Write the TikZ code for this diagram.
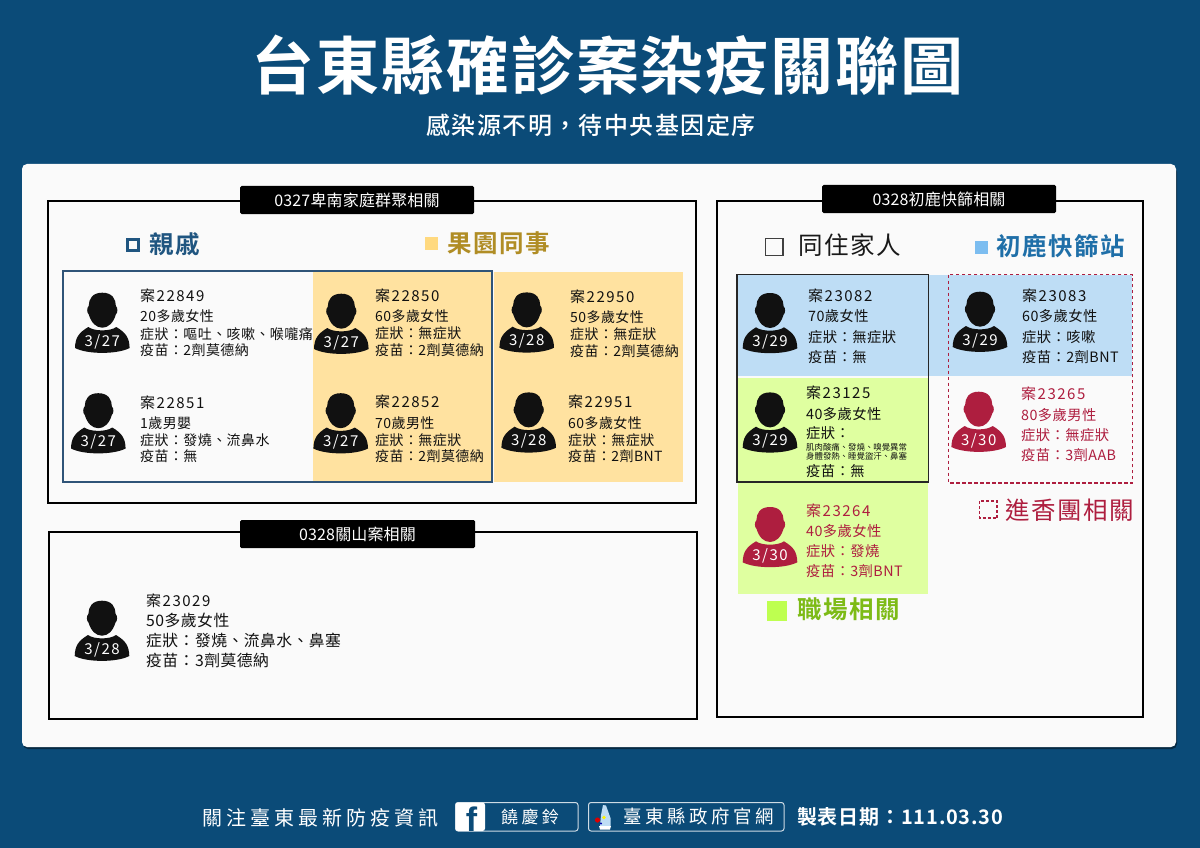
\documentclass[tikz,border=0pt]{standalone}
\usepackage{fontspec}
\setmainfont{Noto Sans CJK TC}
\newfontfamily\bodyf[LetterSpace=3]{Noto Sans CJK TC}
\newfontfamily\headf[LetterSpace=10]{Noto Sans CJK TC}
\newfontfamily\tagf[LetterSpace=1]{Noto Sans CJK TC}
\newfontfamily\legf[LetterSpace=6,BoldFont={Noto Sans CJK TC Bold}]{Noto Sans CJK TC}
\newfontfamily\titlef[LetterSpace=3,BoldFont={Noto Sans CJK TC Bold}]{Noto Sans CJK TC}
\newfontfamily\subf[LetterSpace=6]{Noto Sans CJK TC Medium}
\newfontfamily\footf[LetterSpace=20]{Noto Sans CJK TC}
\newfontfamily\datef[LetterSpace=4,BoldFont={Noto Sans CJK TC Bold}]{Noto Sans CJK TC}
\newfontfamily\latf[BoldFont={Liberation Sans Bold}]{Liberation Sans}
\def\fwcolon{^^^^ff1a}
\def\fwcomma{^^^^ff0c}
\def\bodysz{14}
\definecolor{navy}{HTML}{0B4B78}
\definecolor{panel}{HTML}{FAFAFA}
\definecolor{ink}{HTML}{111111}
\definecolor{rose}{HTML}{AE1E3F}
\definecolor{steel}{HTML}{2F5478}
\definecolor{peach}{HTML}{FFE2A0}
\definecolor{sky}{HTML}{BEDDF5}
\definecolor{lime}{HTML}{DFFFA0}
\definecolor{kin}{HTML}{1F5580}
\definecolor{gold}{HTML}{B08D25}
\definecolor{sea}{HTML}{1F6FA8}
\definecolor{leaf}{HTML}{7DBB16}
\definecolor{orchsq}{HTML}{FFD97F}
\definecolor{skysq}{HTML}{7CBDF0}
\definecolor{limesq}{HTML}{BEFF50}
\tikzset{
  x=1pt,y=-1pt,
  frame/.style={draw=black,line width=2pt,fill=panel},
  tagbox/.style={fill=black,rounded corners=1.5pt},
  tagtext/.style={text=white,font=\tagf\fontsize{16}{16}\selectfont,inner sep=0pt},
  legtext/.style={font=\legf\bfseries\fontsize{24.5}{24.5}\selectfont,anchor=base west,inner sep=0pt},
  footnode/.style={text=white,inner sep=0pt,anchor=base west},
  btn/.style={draw=white!80!navy,line width=1pt,rounded corners=2.5pt},
  infoline/.style={inner sep=0pt,anchor=base west},
  datelabel/.style={text=white,inner sep=0pt,font=\headf\fontsize{15}{15}\selectfont}
}
% person icon: name, x, y, colour, date
\newcommand{\person}[5]{%
  \begin{scope}[shift={(#2,#3)}]
    \fill[#4] (0,-48.3) .. controls (10,-48.3) and (13.5,-42) .. (13.6,-35)
      .. controls (15.6,-33.5) and (15.6,-28) .. (13.5,-26.5)
      .. controls (11,-18) and (6,-13.3) .. (0,-13.3)
      .. controls (-6,-13.3) and (-11,-18) .. (-13.5,-26.5)
      .. controls (-15.6,-28) and (-15.6,-33.5) .. (-13.6,-35)
      .. controls (-13.5,-42) and (-10,-48.3) .. (0,-48.3) -- cycle;
    \fill[#4] (-27.3,7) .. controls (-27,-3) and (-24,-8) .. (-14,-14)
      .. controls (-8,-9.5) and (8,-9.5) .. (14,-14)
      .. controls (24,-8) and (27,-3) .. (27.3,7)
      .. controls (15,13.5) and (-15,13.5) .. (-27.3,7) -- cycle;
    \node[datelabel] (#1) at (0,0.5) {#5};
  \end{scope}}
\newcommand{\caseline}[5]{\node[infoline,text=#4,font=\headf\fontsize{15}{15}\selectfont] (#1) at (#2,#3+5.5) {#5};}
\newcommand{\infoln}[5]{\node[infoline,text=#4,font=\bodyf\fontsize{\bodysz}{\bodysz}\selectfont] (#1) at (#2,#3+5) {#5};}
% case text block: id, x, y1/y2/y3/y4, colour, age, symptom, vaccine
\makeatletter
\newcommand{\casetext}[7]{\@casesplit{#1}{#2}#3\@nil{#4}{#5}{#6}{#7}}
\def\@casesplit#1#2#3/#4/#5/#6\@nil#7#8#9{\def\@a{#1}\def\@b{#2}\def\@c{#3}\def\@d{#4}\def\@e{#5}\def\@f{#6}\def\@g{#7}\def\@h{#8}\def\@i{#9}\@casefin}
\def\@casefin#1{%
  \caseline{c\@a}{\@b}{\@c}{\@g}{案\@a}
  \infoln{a\@a}{\@b}{\@d}{\@g}{\@h}
  \infoln{s\@a}{\@b}{\@e}{\@g}{症狀\fwcolon{}\@i}
  \infoln{v\@a}{\@b}{\@f}{\@g}{疫苗\fwcolon{}#1}}
\makeatother
\begin{document}
\begin{tikzpicture}
\useasboundingbox (0,0) rectangle (1200,848);
\fill[navy] (0,0) rectangle (1200,848);
\fill[black!45!navy,rounded corners=5pt] (23,167) rectangle (1177,749);
\fill[panel,rounded corners=5pt] (22,164) rectangle (1176,747);

\node[text=white,font=\titlef\bfseries\fontsize{63}{63}\selectfont,inner sep=0pt] (title) at (607.5,65) {台東縣確診案染疫關聯圖};
\node[text=white,font=\subf\fontsize{24}{24}\selectfont,inner sep=0pt,anchor=base] (subtitle) at (591,135) {感染源不明\fwcomma{}待中央基因定序};

% frames
\draw[frame] (47.5,200.5) rectangle (696,503);
\draw[frame] (48.5,531.5) rectangle (697,719);
\draw[frame] (716.5,200.5) rectangle (1143,717);
\fill[tagbox] (240,186) rectangle (474,214);
\fill[tagbox] (240,520) rectangle (475,548);
\fill[tagbox] (822,185) rectangle (1056,213);
\node[tagtext] (tagA) at (357,200.5) {0327卑南家庭群聚相關};
\node[tagtext] (tagB) at (357.5,534) {0328關山案相關};
\node[tagtext] (tagC) at (939,199) {0328初鹿快篩相關};

% colour fields
\fill[peach] (313,272) rectangle (491,481);
\fill[peach] (493.5,272) rectangle (682.5,481.5);
\draw[steel,line width=2pt] (63,270.5) rectangle (491.5,481.7);
\fill[sky] (737,275) rectangle (1132,376);
\fill[lime] (737.5,378) rectangle (928,593.5);
\draw[black!85,line width=1.5pt] (737,274.5) rectangle (928.5,482);
\draw[rose,line width=1.2pt,dash pattern=on 3.5pt off 2.5pt] (948.7,274.5) rectangle (1132.5,483);

% legends
\draw[kin,line width=3pt] (127.5,239.5) rectangle (138.5,250.5);
\node[legtext,text=kin] (legKin) at (149,253) {親戚};
\fill[orchsq] (424.5,236.5) rectangle (437.5,249.5);
\node[legtext,text=gold] (legOrch) at (447,252) {果園同事};
\draw[black!75,line width=1.5pt] (765.5,238.5) rectangle (783,255.5);
\node[legtext,text=black!90,font=\legf\fontsize{24.5}{24.5}\selectfont] (legHome) at (798,254.5) {同住家人};
\fill[skysq] (975,241) rectangle (988,254);
\node[legtext,text=sea] (legSta) at (996,255.5) {初鹿快篩站};
\draw[rose,line width=1.2pt,dash pattern=on 3pt off 2pt] (979.5,501) rectangle (997,518);
\node[legtext,text=rose,font=\legf\fontsize{24.5}{24.5}\selectfont] (legTemple) at (1005,519.5) {進香團相關};
\fill[limesq] (767,601) rectangle (787,621);
\node[legtext,text=leaf] (legWork) at (797,618.5) {職場相關};

% people
\person{p22849}{102.3}{341}{ink}{3/27}
\person{p22851}{98.3}{441.5}{ink}{3/27}
\person{p22850}{341.3}{342}{ink}{3/27}
\person{p22852}{340.7}{441.5}{ink}{3/27}
\person{p22950}{526.7}{340.7}{ink}{3/28}
\person{p22951}{528.7}{440.7}{ink}{3/28}
\person{p23029}{102}{649}{ink}{3/28}
\person{p23082}{770}{341.3}{ink}{3/29}
\person{p23083}{980}{340}{ink}{3/29}
\person{p23125}{770}{440.7}{ink}{3/29}
\person{p23265}{978.7}{440}{rose}{3/30}
\person{p23264}{770}{555.3}{rose}{3/30}

% case texts
\casetext{22849}{140}{296/316.5/334/350.5}{ink}{20多歲女性}{嘔吐、咳嗽、喉嚨痛}{2劑莫德納}
\casetext{22851}{140}{402.5/423.5/440/456.5}{ink}{1歲男嬰}{發燒、流鼻水}{無}
\casetext{22850}{375}{296/316/333/350.5}{ink}{60多歲女性}{無症狀}{2劑莫德納}
\casetext{22852}{375}{402/423/440/456.5}{ink}{70歲男性}{無症狀}{2劑莫德納}
\casetext{22950}{570}{297/317.5/334/351.5}{ink}{50多歲女性}{無症狀}{2劑莫德納}
\casetext{22951}{568}{402/423/440/456.5}{ink}{60多歲女性}{無症狀}{2劑BNT}
\def\bodysz{15.8}
\casetext{23029}{146}{601/621/641/661}{ink}{50多歲女性}{發燒、流鼻水、鼻塞}{3劑莫德納}
\def\bodysz{14.3}
\casetext{23082}{808}{296/316.7/337.3/357.3}{ink}{70歲女性}{無症狀}{無}
\casetext{23083}{1022}{296/316.7/337.3/357.3}{ink}{60多歲女性}{咳嗽}{2劑BNT}
\casetext{23125}{806}{393.3/414/433.3/471.7}{ink}{40多歲女性}{}{無}
\node[infoline,text=ink,font=\fontsize{8.4}{8.4}\selectfont] (sym1) at (806,450) {肌肉酸痛、發燒、嗅覺異常};
\node[infoline,text=ink,font=\fontsize{8.4}{8.4}\selectfont] (sym2) at (806,459.5) {身體發熱、睡覺盜汗、鼻塞};
\casetext{23265}{1021}{394/415/435/455}{rose}{80多歲男性}{無症狀}{3劑AAB}
\casetext{23264}{806}{511/531.7/551.7/571.7}{rose}{40多歲女性}{發燒}{3劑BNT}

% footer
\node[footnode,font=\footf\fontsize{20}{20}\selectfont] (f1) at (202,825) {關注臺東最新防疫資訊};
\draw[btn] (455.5,802.5) rectangle (578,831);
\fill[white,rounded corners=2.5pt] (455.5,802.5) rectangle (485,831);
\begin{scope}
  \clip (455.5,802.5) rectangle (485,831);
  \node[inner sep=0pt,anchor=base,text=navy,font=\latf\bfseries\fontsize{34}{34}\selectfont] (fb) at (471.5,831) {f};
\end{scope}
\node[footnode,font=\footf\fontsize{17}{17}\selectfont] (f2) at (501,823) {饒慶鈴};
\draw[btn] (588.5,802.5) rectangle (784,831);
\fill[sky] (603,805) -- (606,805.5) -- (610.5,818) -- (610.5,826) -- (600,826) -- (601,815) -- cycle;
\fill[white] (599,826) -- (611,826) -- (610,829.5) -- (600,829.5) -- cycle;
\fill[red!85!black] (597.5,820) circle (2.6);
\fill[yellow] (604,817.5) circle (1.8);
\fill[blue!70!black] (601,823.5) circle (1.2);
\node[footnode,font=\footf\fontsize{18.4}{18.4}\selectfont] (f3) at (623,823.5) {臺東縣政府官網};
\node[footnode,font=\datef\bfseries\fontsize{20}{20}\selectfont] (f4) at (797,824) {製表日期\fwcolon{}111.03.30};
\end{tikzpicture}
\end{document}
